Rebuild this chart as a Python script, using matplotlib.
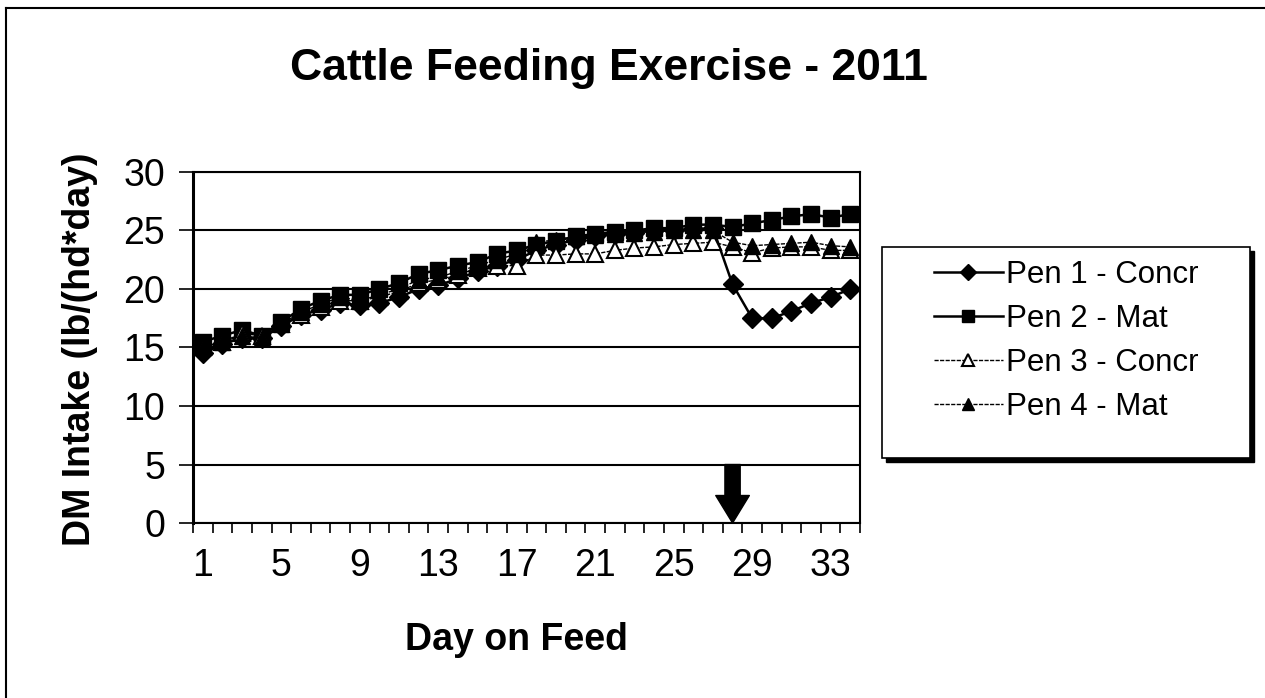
import numpy as np
import matplotlib
matplotlib.use("Agg")
import matplotlib.pyplot as plt
from matplotlib.lines import Line2D
from matplotlib.patches import Rectangle

plt.rcParams['font.family'] = ['Liberation Sans', 'DejaVu Sans']

days = list(range(1, 35))
pen1 = [14.5, 15.3, 15.8, 15.8, 16.8, 17.8, 18.2, 18.8, 18.6, 18.8, 19.3, 20.0,
        20.3, 20.9, 21.5, 22.0, 22.5, 23.3, 23.8, 24.2, 24.5, 24.7, 24.8, 25.0,
        25.0, 25.1, 25.2, 20.4, 17.5, 17.5, 18.1, 18.8, 19.3, 20.0]
pen2 = [15.5, 16.0, 16.5, 16.0, 17.2, 18.3, 19.0, 19.5, 19.5, 20.0, 20.5, 21.3,
        21.6, 22.0, 22.3, 23.0, 23.3, 23.8, 24.1, 24.5, 24.7, 24.9, 25.0, 25.2,
        25.2, 25.5, 25.5, 25.3, 25.6, 25.9, 26.2, 26.4, 26.1, 26.4]
pen3 = [15.0, 15.5, 16.2, 16.0, 17.0, 17.8, 18.5, 19.0, 19.0, 19.3, 19.8, 20.5,
        20.8, 21.2, 21.8, 22.0, 22.0, 22.9, 22.9, 23.0, 23.0, 23.3, 23.5, 23.6,
        23.8, 23.9, 24.0, 23.6, 23.1, 23.5, 23.6, 23.6, 23.3, 23.3]
pen4 = [15.0, 15.5, 16.0, 15.8, 17.0, 18.0, 18.7, 19.3, 19.0, 19.5, 20.0, 20.8,
        21.0, 21.5, 22.0, 22.5, 23.0, 24.0, 24.2, 24.5, 24.6, 24.7, 24.8, 24.9,
        25.0, 25.0, 25.0, 24.0, 23.7, 23.8, 23.9, 24.0, 23.7, 23.6]
labels = ["Pen 1 - Concr", "Pen 2 - Mat", "Pen 3 - Concr", "Pen 4 - Mat"]
tick_days = [1, 5, 9, 13, 17, 21, 25, 29, 33]
arrow_day = 28

W, H = 1265, 698
fig = plt.figure(figsize=(12.65, 6.98), dpi=100)
ax = fig.add_axes([0.1526, 0.2507, 0.5273, 0.5029])

ax.plot(days, pen1, color='black', lw=1.8, marker='D', ms=10, label=labels[0])
ax.plot(days, pen2, color='black', lw=1.8, marker='s', ms=11, label=labels[1])
ax.plot(days, pen3, color='black', lw=1, ls=(0, (3, 1)), marker='^', ms=11,
        mfc='white', mec='black', mew=1.5, label=labels[2])
ax.plot(days, pen4, color='black', lw=1, ls=(0, (3, 1)), marker='^', ms=11,
        label=labels[3])

# arrow marking the change at day 28
ax.annotate('', xy=(arrow_day, 0), xytext=(arrow_day, 5),
            arrowprops=dict(arrowstyle='simple,head_length=0.9,head_width=1.1,tail_width=0.5',
                            mutation_scale=22, color='black', shrinkA=0, shrinkB=0),
            zorder=5)

ax.set_xlim(0.5, 34.5)
ax.set_ylim(0, 30)
ax.set_yticks(range(0, 31, 5))
ax.yaxis.grid(True, color='black', lw=1.5)
ax.set_axisbelow(True)

ax.set_xticks(np.arange(0.5, 35, 1))
ax.set_xticklabels([])
ax.set_xticks(tick_days, minor=True)
ax.set_xticklabels([str(d) for d in tick_days], minor=True)
ax.tick_params(axis='x', which='major', direction='out', length=7, width=1.2)
ax.tick_params(axis='x', which='minor', length=0, pad=18, labelsize=27)
ax.tick_params(axis='y', direction='out', length=10, width=1.2, pad=10, labelsize=27)

for s in ax.spines.values():
    s.set_color('black')
    s.set_linewidth(1.5)
ax.spines['left'].set_linewidth(2.2)

# legend box drawn by hand (wider side padding than matplotlib gives)
bx0, bx1, by0, by1 = 882, 1250, 247, 458
fig.add_artist(Rectangle(((bx0 + 4) / W, 1 - (by1 + 4) / H), (bx1 - bx0) / W, (by1 - by0) / H,
                         transform=fig.transFigure, facecolor='black', edgecolor='black',
                         zorder=-2))
fig.add_artist(Rectangle((bx0 / W, 1 - by1 / H), (bx1 - bx0) / W, (by1 - by0) / H,
                         transform=fig.transFigure, facecolor='white', edgecolor='black', lw=1.2,
                         zorder=-1))

leg = ax.legend(loc='center', bbox_to_anchor=(0.8427, 0.511), bbox_transform=fig.transFigure,
                fontsize=22.5, frameon=False,
                handlelength=2.2, handletextpad=0.1, labelspacing=0.45,
                borderpad=0.55, markerscale=0.8)

fig.text(0.481, 0.902, "Cattle Feeding Exercise - 2011", ha='center', va='center',
         fontsize=32, fontweight='bold')
fig.text(0.408, 0.083, "Day on Feed", ha='center', va='center',
         fontsize=27, fontweight='bold')
fig.text(0.063, 0.50, "DM Intake (lb/(hd*day)", ha='center', va='center',
         rotation=90, fontsize=27, fontweight='bold')

# outer frame of the scanned page
fig.add_artist(Line2D([6 / W, 6 / W], [0, 1 - 8 / H], color='black', lw=1.5))
fig.add_artist(Line2D([6 / W, 1], [1 - 8 / H, 1 - 8 / H], color='black', lw=1.5))

fig.savefig("out.png", dpi=100)
